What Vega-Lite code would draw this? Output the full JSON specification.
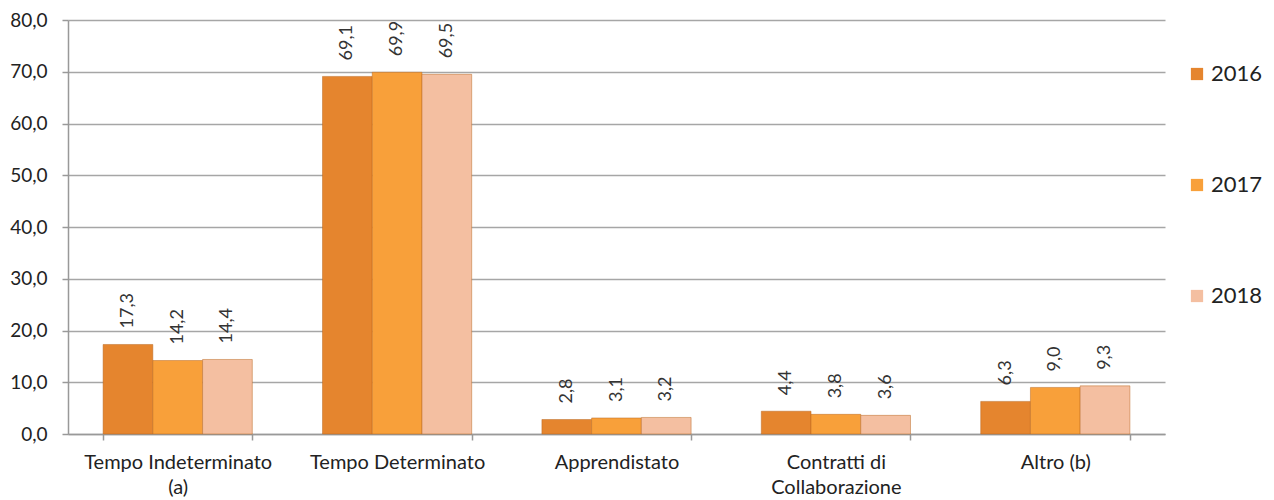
{
  "$schema": "https://vega.github.io/schema/vega-lite/v6.json",
  "width": 1097,
  "height": 414,
  "autosize": {"type": "none"},
  "padding": {"left": 68, "top": 20, "right": 109, "bottom": 66},
  "background": "white",
  "config": {
    "font": "Lato",
    "view": {"stroke": null},
    "locale": {"number": {"decimal": ",", "thousands": ".", "grouping": [3], "currency": ["", " €"]}}
  },
  "data": {
    "values": [
      {"categoria": "Tempo Indeterminato (a)", "anno": "2016", "valore": 17.3},
      {"categoria": "Tempo Indeterminato (a)", "anno": "2017", "valore": 14.2},
      {"categoria": "Tempo Indeterminato (a)", "anno": "2018", "valore": 14.4},
      {"categoria": "Tempo Determinato", "anno": "2016", "valore": 69.1},
      {"categoria": "Tempo Determinato", "anno": "2017", "valore": 69.9},
      {"categoria": "Tempo Determinato", "anno": "2018", "valore": 69.5},
      {"categoria": "Apprendistato", "anno": "2016", "valore": 2.8},
      {"categoria": "Apprendistato", "anno": "2017", "valore": 3.1},
      {"categoria": "Apprendistato", "anno": "2018", "valore": 3.2},
      {"categoria": "Contratti di Collaborazione", "anno": "2016", "valore": 4.4},
      {"categoria": "Contratti di Collaborazione", "anno": "2017", "valore": 3.8},
      {"categoria": "Contratti di Collaborazione", "anno": "2018", "valore": 3.6},
      {"categoria": "Altro (b)", "anno": "2016", "valore": 6.3},
      {"categoria": "Altro (b)", "anno": "2017", "valore": 9.0},
      {"categoria": "Altro (b)", "anno": "2018", "valore": 9.3}
    ]
  },
  "encoding": {
    "x": {
      "field": "categoria",
      "type": "nominal",
      "sort": null,
      "scale": {"paddingInner": 0.32, "paddingOuter": 0.16},
      "axis": {
        "title": null,
        "labelAngle": 0,
        "labelFontSize": 20,
        "labelColor": "#222",
        "labelFont": "Lato",
        "labelPadding": 12,
        "labelLineHeight": 25,
        "labelLimit": 400,
        "labelOverlap": false,
        "tickBand": "extent",
        "tickColor": "#999",
        "tickSize": 6,
        "tickWidth": 1.5,
        "domainColor": "#999",
        "domainWidth": 1.5,
        "labelExpr": "datum.value == 'Tempo Indeterminato (a)' ? ['Tempo Indeterminato', '(a)'] : datum.value == 'Contratti di Collaborazione' ? ['Contratti di', 'Collaborazione'] : datum.value"
      }
    },
    "xOffset": {"field": "anno", "type": "nominal", "scale": {"paddingInner": 0, "paddingOuter": 0}},
    "y": {
      "field": "valore",
      "type": "quantitative",
      "scale": {"domain": [0, 80], "nice": false},
      "axis": {
        "title": null,
        "values": [0, 10, 20, 30, 40, 50, 60, 70, 80],
        "format": ".1f",
        "labelFontSize": 19,
        "labelColor": "#222",
        "labelPadding": 15,
        "tickSize": 6,
        "tickColor": "#999",
        "tickWidth": 1.5,
        "domainColor": "#999",
        "domainWidth": 1.5,
        "gridColor": "#a6a6a6",
        "gridWidth": 1.5
      }
    }
  },
  "layer": [
    {
      "mark": {"type": "bar", "stroke": "#b8651e", "strokeWidth": 0.8, "strokeOpacity": 0.6},
      "encoding": {
        "color": {
          "field": "anno",
          "type": "nominal",
          "scale": {"domain": ["2016", "2017", "2018"], "range": ["#e5852e", "#f8a03a", "#f4bfa1"]},
          "legend": {
            "title": null,
            "orient": "none",
            "legendX": 1118,
            "legendY": 43,
            "symbolType": "square",
            "symbolSize": 150,
            "symbolStrokeWidth": 0,
            "labelFontSize": 22,
            "labelColor": "#222",
            "labelOffset": 3,
            "rowPadding": 89
          }
        }
      }
    },
    {
      "mark": {"type": "text", "angle": 270, "align": "left", "baseline": "middle", "dx": 16, "fontSize": 18, "color": "#333"},
      "encoding": {
        "text": {"field": "valore", "type": "quantitative", "format": ".1f"}
      }
    }
  ]
}
